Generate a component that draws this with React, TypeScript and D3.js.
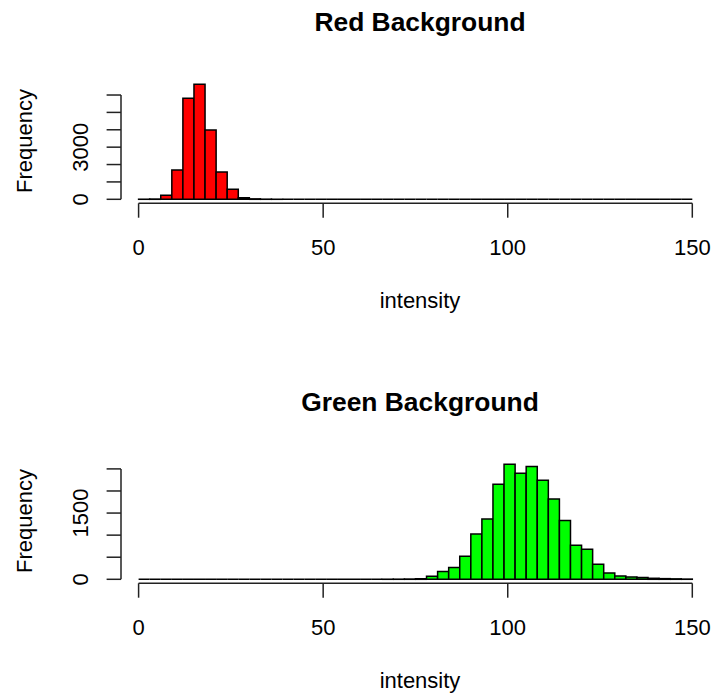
import React from 'react';
import * as d3 from 'd3';

// histogram bins are 3 units wide, from 0 to 150
const binWidth = 3;
const breaks = d3.range(0, 151, binWidth);

const redCounts = [
  5, 15, 230, 1687, 5810, 6617, 3988, 1572, 575, 96,
  25, 8, 3, 0, 0, 0, 0, 0, 0, 0,
  0, 0, 0, 0, 0, 0, 0, 0, 0, 0,
  0, 0, 0, 0, 0, 0, 0, 0, 0, 0,
  0, 0, 0, 0, 0, 0, 0, 0, 0, 0,
];

const greenCounts = [
  0, 0, 0, 0, 0, 0, 0, 0, 0, 0,
  0, 0, 0, 0, 0, 0, 0, 0, 0, 0,
  0, 0, 2, 3, 6, 12, 68, 174, 265, 523,
  1023, 1364, 2152, 2606, 2402, 2553, 2242, 1818, 1333, 773,
  682, 341, 144, 76, 53, 38, 23, 15, 10, 5,
];

const xTicks = [0, 50, 100, 150];
const redYTicks = [0, 1000, 2000, 3000, 4000, 5000, 6000];
const redYLabels = [0, 3000];
const greenYTicks = [0, 500, 1000, 1500, 2000, 2500];
const greenYLabels = [0, 1500];

const W = 713;
const H = 693;
const FONT = '"Liberation Sans", Arial, Helvetica, sans-serif';

interface PanelProps {
  top: number;
  title: string;
  counts: number[];
  fill: string;
  yTicks: number[];
  yLabels: number[];
  pxPerCount: number;
}

const Panel: React.FC<PanelProps> = ({ top, title, counts, fill, yTicks, yLabels, pxPerCount }) => {
  const plotLeft = 121;
  const plotRight = 719;
  const axisY = top + 203.3;
  const zeroY = top + 199.3;
  const cx = (plotLeft + plotRight) / 2;

  const x = d3.scaleLinear().domain([0, 150]).range([138.6, 692.3]);
  const yMax = yTicks[yTicks.length - 1];
  const y = d3.scaleLinear().domain([0, yMax]).range([zeroY, zeroY - yMax * pxPerCount]);

  const tick = 14.4;
  const stroke = '#222';

  // bars as paths so that empty bins still draw their outline on the baseline
  const barPath = (i: number) => {
    const p = d3.path();
    p.rect(x(breaks[i]), y(counts[i]), x(breaks[i + 1]) - x(breaks[i]), y(0) - y(counts[i]));
    return p.toString();
  };

  return (
    <g>
      <text x={cx} y={top + 31} textAnchor="middle" fontFamily={FONT} fontWeight="bold" fontSize={26.4}>
        {title}
      </text>

      {counts.map((c, i) => (
        <path key={i} d={barPath(i)} fill={fill} stroke="#000" strokeWidth={1.5} />
      ))}

      {/* x axis */}
      <line x1={x(0)} x2={x(150)} y1={axisY} y2={axisY} stroke={stroke} strokeWidth={1.5} />
      {xTicks.map((t) => (
        <g key={t}>
          <line x1={x(t)} x2={x(t)} y1={axisY} y2={axisY + tick} stroke={stroke} strokeWidth={1.5} />
          <text x={x(t)} y={top + 255} textAnchor="middle" fontFamily={FONT} fontSize={22}>
            {t}
          </text>
        </g>
      ))}
      <text x={cx} y={top + 308} textAnchor="middle" fontFamily={FONT} fontSize={22}>
        intensity
      </text>

      {/* y axis */}
      <line x1={plotLeft} x2={plotLeft} y1={y(0)} y2={y(yMax)} stroke={stroke} strokeWidth={1.5} />
      {yTicks.map((t) => (
        <line key={t} x1={plotLeft} x2={plotLeft - tick} y1={y(t)} y2={y(t)} stroke={stroke} strokeWidth={1.5} />
      ))}
      {yLabels.map((t) => (
        <text
          key={t}
          transform={`translate(88,${y(t)}) rotate(-90)`}
          textAnchor="middle"
          fontFamily={FONT}
          fontSize={22}
        >
          {t}
        </text>
      ))}
      <text
        transform={`translate(32,${top + 141}) rotate(-90)`}
        textAnchor="middle"
        fontFamily={FONT}
        fontSize={22}
      >
        Frequency
      </text>
    </g>
  );
};

export default function App() {
  return (
    <svg
      width={W}
      height={H}
      style={{ position: 'absolute', left: 0, top: 0, background: '#fff' }}
    >
      <rect width={W} height={H} fill="#fff" />
      <Panel
        top={0}
        title="Red Background"
        counts={redCounts}
        fill="#ff0000"
        yTicks={redYTicks}
        yLabels={redYLabels}
        pxPerCount={0.01738}
      />
      <Panel
        top={380}
        title="Green Background"
        counts={greenCounts}
        fill="#00ff00"
        yTicks={greenYTicks}
        yLabels={greenYLabels}
        pxPerCount={0.04416}
      />
    </svg>
  );
}
